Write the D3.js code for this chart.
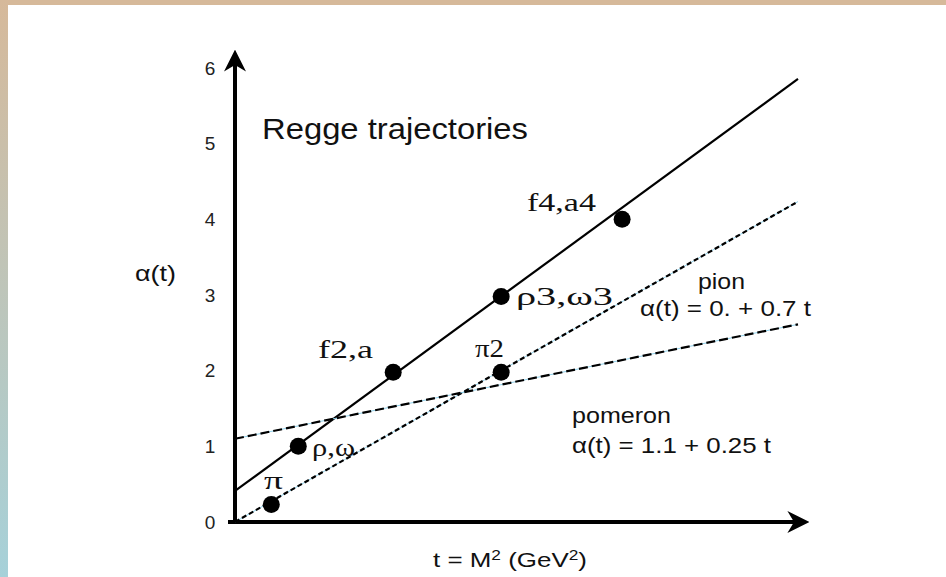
<!DOCTYPE html>
<html><head><meta charset="utf-8">
<style>
body { margin: 0; background: #fff; }
svg { display: block; }
.sans { font-family: "Liberation Sans", Arial, sans-serif; fill: #111; }
.serif { font-family: "Liberation Serif", "Times New Roman", serif; fill: #111; }
</style>
</head><body>
<svg width="946" height="577"></svg>
<script src="https://d3js.org/d3.v7.min.js"></script>
<script>
// Regge trajectories data (t in GeV^2, alpha(t))
var yTicks = [0, 1, 2, 3, 4, 5, 6];
var mesonNames = ["π", "ρ,ω", "f2,a", "ρ3,ω3", "f4,a4", "π2"];
var mesonT = [0.39, 0.68, 1.70, 2.86, 4.16, 2.86];
var mesonAlpha = [0.23, 1.0, 1.98, 2.98, 4.0, 1.98];
var trajNames = ["leading", "pion", "pomeron"];
var trajIntercept = [0.41, 0.0, 1.1];
var trajSlope = [0.9, 0.7, 0.25];
var tEnd = 6.05;

var svg = d3.select("svg");

// page frame
var defs = svg.append("defs");
var grad = defs.append("linearGradient").attr("id", "side").attr("x1", 0).attr("y1", 0).attr("x2", 0).attr("y2", 1);
grad.append("stop").attr("offset", "0%").attr("stop-color", "#d6b99a");
grad.append("stop").attr("offset", "100%").attr("stop-color", "#a6d1d9");
svg.append("rect").attr("width", 946).attr("height", 5).attr("fill", "#d6b99a");
svg.append("rect").attr("y", 0).attr("width", 8).attr("height", 577).attr("fill", "url(#side)");

var x = d3.scaleLinear().domain([0, tEnd]).range([235, 798]);
var y = d3.scaleLinear().domain([0, 6]).range([522, 68]);

// arrow marker
defs.append("marker")
    .attr("id", "arrow")
    .attr("viewBox", "0 0 10 10")
    .attr("refX", 8).attr("refY", 5)
    .attr("markerWidth", 5.5).attr("markerHeight", 5.5)
    .attr("markerUnits", "strokeWidth")
    .attr("orient", "auto")
  .append("path")
    .attr("d", "M0,0 L10,5 L0,10 L3,5 Z")
    .attr("fill", "#000");

// y tick labels
svg.append("g")
    .attr("transform", "translate(" + x(0) + ",0)")
    .call(d3.axisLeft(y).tickValues(yTicks).tickSize(0).tickPadding(30).tickFormat(d3.format("d")))
    .call(function(g) {
      g.select(".domain").remove();
      g.selectAll(".tick text")
          .attr("font-family", "'Liberation Sans', Arial, sans-serif")
          .attr("font-size", 19)
          .attr("fill", "#222")
          .attr("text-anchor", "middle")
          .attr("dx", 5);
    });

// axes with arrows
svg.append("line")
    .attr("x1", x(0)).attr("y1", y(0) + 2).attr("x2", x(0)).attr("y2", 54)
    .attr("stroke", "#000").attr("stroke-width", 4).attr("marker-end", "url(#arrow)");
svg.append("line")
    .attr("x1", x(0) - 7).attr("y1", y(0)).attr("x2", 805).attr("y2", y(0))
    .attr("stroke", "#000").attr("stroke-width", 4).attr("marker-end", "url(#arrow)");

// trajectories
var trajStyle = [
  { dash: null, width: 2.2 },
  { dash: "5,3", width: 2.2 },
  { dash: "9,4", width: 2.2 }
];
trajNames.forEach(function(name, i) {
  var pts = [[0, trajIntercept[i]], [tEnd, trajIntercept[i] + trajSlope[i] * tEnd]];
  var line = d3.line().x(function(d) { return x(d[0]); }).y(function(d) { return y(d[1]); });
  if (trajStyle[i].dash) {
    svg.append("path").attr("d", line(pts))
        .attr("fill", "none").attr("stroke", "#8fd0ea").attr("stroke-width", 1);
  }
  svg.append("path").attr("d", line(pts))
      .attr("fill", "none").attr("stroke", "#000")
      .attr("stroke-width", trajStyle[i].width)
      .attr("stroke-dasharray", trajStyle[i].dash);
});

// meson points
svg.selectAll("circle.meson")
  .data(mesonT)
  .enter().append("circle")
    .attr("class", "meson")
    .attr("cx", function(d) { return x(d); })
    .attr("cy", function(d, i) { return y(mesonAlpha[i]); })
    .attr("r", 8.5)
    .attr("fill", "#000");

// text helper: fixed width to mimic the stretched original
function label(cls, px, py, size, w, str) {
  return svg.append("text").attr("class", cls)
      .attr("x", px).attr("y", py)
      .attr("font-size", size)
      .attr("textLength", w)
      .attr("lengthAdjust", "spacingAndGlyphs")
      .text(str);
}

// meson labels
var labelPos = [[264, 489, 19], [312, 456, 43], [318, 358, 55], [516, 305, 97], [527, 211, 69], [475, 357, 29]];
mesonNames.forEach(function(n, i) {
  label("serif", labelPos[i][0], labelPos[i][1], 25, labelPos[i][2], n);
});

// annotation text
label("sans", 262, 139, 30, 266, "Regge trajectories");
label("sans", 135, 281, 22, 41, "α(t)");
label("sans", 698, 289, 22, 47, "pion");
label("sans", 640, 316, 22, 171, "α(t) = 0. + 0.7 t");
label("sans", 572, 423, 22, 99, "pomeron");
label("sans", 572, 453, 22, 199, "α(t) = 1.1 + 0.25 t");

var xl = svg.append("text").attr("class", "sans").attr("x", 433).attr("y", 567).attr("font-size", 21)
    .attr("textLength", 154).attr("lengthAdjust", "spacingAndGlyphs");
xl.append("tspan").text("t = M");
xl.append("tspan").attr("font-size", 14).attr("dy", -7).text("2");
xl.append("tspan").attr("dy", 7).text(" (GeV");
xl.append("tspan").attr("font-size", 14).attr("dy", -7).text("2");
xl.append("tspan").attr("dy", 7).text(")");
</script>
</body></html>
